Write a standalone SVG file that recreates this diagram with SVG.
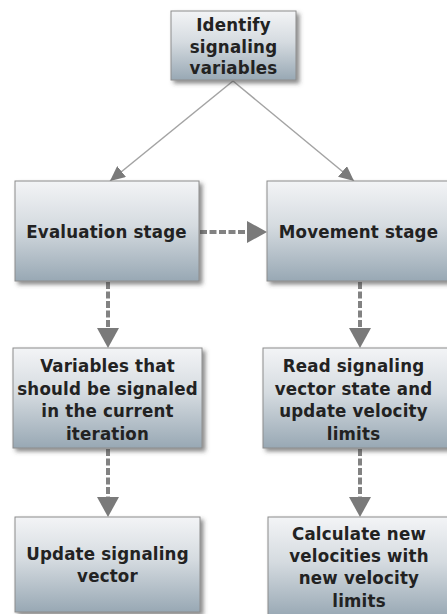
<svg xmlns="http://www.w3.org/2000/svg" width="447" height="614" viewBox="0 0 447 614">
  <defs>
    <linearGradient id="boxGrad" x1="0" y1="0" x2="0" y2="1">
      <stop offset="0" stop-color="#f3f4f6"/>
      <stop offset="0.45" stop-color="#d5dbe0"/>
      <stop offset="1" stop-color="#98a8b4"/>
    </linearGradient>
    <filter id="shadow" x="-10%" y="-10%" width="125%" height="130%">
      <feDropShadow dx="3" dy="3" stdDeviation="2" flood-color="#404040" flood-opacity="0.6"/>
    </filter>
    <marker id="headThin" markerUnits="userSpaceOnUse" markerWidth="16" markerHeight="14" refX="15" refY="7" orient="auto">
      <path d="M0,0 L15,7 L0,14 Z" fill="#7a7a7a"/>
    </marker>
    <marker id="headBig" markerUnits="userSpaceOnUse" markerWidth="22" markerHeight="24" refX="0" refY="11" orient="auto">
      <path d="M0,0 L20,11 L0,22 Z" fill="#7a7a7a"/>
    </marker>
  </defs>
  <style>
    .box { fill: url(#boxGrad); stroke: #8c8c8c; stroke-width: 1; filter: url(#shadow); }
    .lbl { font-family: "DejaVu Sans Condensed", "DejaVu Sans", Verdana, sans-serif; font-weight: bold; font-size: 18.5px; letter-spacing: 0.2px; fill: #222222; text-anchor: middle; }
    .thin { stroke: #a3a3a3; stroke-width: 1.5; fill: none; marker-end: url(#headThin); }
    .dash { stroke: #828282; stroke-width: 4; stroke-dasharray: 7 2.5; fill: none; marker-end: url(#headBig); }
  </style>

  <g id="connectors">
    <path class="thin" d="M233,81 L110,181"/>
    <path class="thin" d="M233,81 L354,181"/>
    <path class="dash" d="M200,232 L247,232"/>
    <path class="dash" d="M108,282 L108,328"/>
    <path class="dash" d="M360,282 L360,328"/>
    <path class="dash" d="M108,449 L108,497"/>
    <path class="dash" d="M360,449 L360,497"/>
  </g>

  <g id="identify">
    <rect class="box" x="171" y="11" width="125" height="69"/>
    <text class="lbl" x="233.5" y="31">Identify</text>
    <text class="lbl" x="233.5" y="52.5">signaling</text>
    <text class="lbl" x="233.5" y="74">variables</text>
  </g>

  <g id="evaluation">
    <rect class="box" x="15" y="181" width="184" height="100"/>
    <text class="lbl" x="106.5" y="238">Evaluation stage</text>
  </g>

  <g id="movement">
    <rect class="box" x="267" y="181" width="184" height="100"/>
    <text class="lbl" x="358.5" y="238">Movement stage</text>
  </g>

  <g id="variables">
    <rect class="box" x="13" y="348" width="189" height="100"/>
    <text class="lbl" x="107.5" y="372">Variables that</text>
    <text class="lbl" x="107.5" y="394.5">should be signaled</text>
    <text class="lbl" x="107.5" y="417">in the current</text>
    <text class="lbl" x="107.5" y="440">iteration</text>
  </g>

  <g id="read">
    <rect class="box" x="263" y="348" width="189" height="100"/>
    <text class="lbl" x="353.5" y="372">Read signaling</text>
    <text class="lbl" x="353.5" y="394.5">vector state and</text>
    <text class="lbl" x="353.5" y="417">update velocity</text>
    <text class="lbl" x="353.5" y="440">limits</text>
  </g>

  <g id="update">
    <rect class="box" x="15" y="517" width="185" height="95"/>
    <text class="lbl" x="107.5" y="559.5">Update signaling</text>
    <text class="lbl" x="107.5" y="581.5">vector</text>
  </g>

  <g id="calculate">
    <rect class="box" x="268" y="517" width="184" height="100"/>
    <text class="lbl" x="359" y="540">Calculate new</text>
    <text class="lbl" x="359" y="562">velocities with</text>
    <text class="lbl" x="359" y="584">new velocity</text>
    <text class="lbl" x="359" y="606.5">limits</text>
  </g>
</svg>
